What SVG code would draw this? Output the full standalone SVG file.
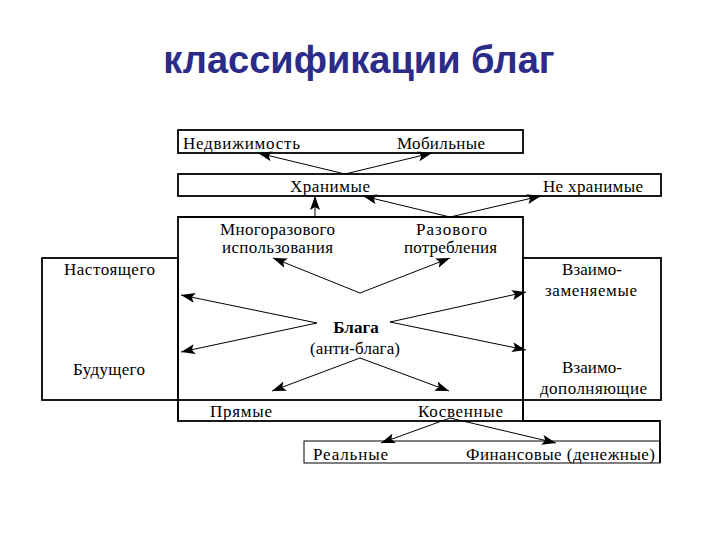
<svg xmlns="http://www.w3.org/2000/svg" width="720" height="540" viewBox="0 0 720 540">
<style>
.t{font-family:"Liberation Serif","DejaVu Serif","Times New Roman",serif;font-size:17px;fill:#000}
.b{fill:none;stroke:#000;stroke-width:1.8}
.c{fill:none;stroke:#000;stroke-width:1}
.title{font-family:"Liberation Sans",Arial,sans-serif;font-weight:bold;font-size:38px;fill:#2B2B88}
</style>
<defs>
<marker id="ah" markerUnits="userSpaceOnUse" markerWidth="16" markerHeight="12" refX="14" refY="5" orient="auto">
<path d="M0,0 L14,5 L0,10 L3,5 Z" fill="#000"/>
</marker>
</defs>
<rect width="720" height="540" fill="#fff"/>
<text class="title" x="359" y="73" text-anchor="middle">классификации благ</text>

<g id="n-row1">
<rect class="b" x="178" y="130" width="345" height="23"/>
<text class="t" font-family="Liberation Serif, DejaVu Serif, serif" x="183" y="149" textLength="117" lengthAdjust="spacing">Недвижимость</text>
<text class="t" font-family="Liberation Serif, DejaVu Serif, serif" x="397" y="149" textLength="88" lengthAdjust="spacing">Мобильные</text>
</g>
<g id="n-row2">
<rect class="b" x="178" y="174" width="483" height="22"/>
<text class="t" x="290" y="192" textLength="80" lengthAdjust="spacing">Хранимые</text>
<text class="t" x="543" y="192" textLength="100" lengthAdjust="spacing">Не хранимые</text>
</g>
<g id="n-center">
<path class="b" d="M178,421 V217 H523 V421"/>
<text class="t" x="220" y="235" textLength="115" lengthAdjust="spacing">Многоразового</text>
<text class="t" x="222" y="253" textLength="111" lengthAdjust="spacing">использования</text>
<text class="t" x="416" y="235" textLength="71" lengthAdjust="spacing">Разового</text>
<text class="t" x="404" y="253" textLength="93" lengthAdjust="spacing">потребления</text>
<text class="t" x="356" y="333" text-anchor="middle" font-weight="bold">Блага</text>
<text class="t" x="355" y="354" text-anchor="middle" textLength="90" lengthAdjust="spacing">(анти-блага)</text>
</g>
<g id="n-left">
<rect class="b" x="42" y="258" width="136" height="142"/>
<text class="t" x="64" y="275" textLength="91" lengthAdjust="spacing">Настоящего</text>
<text class="t" x="73" y="375" textLength="72" lengthAdjust="spacing">Будущего</text>
</g>
<g id="n-right">
<rect class="b" x="523" y="258" width="138" height="142"/>
<text class="t" x="562" y="275" textLength="60" lengthAdjust="spacing">Взаимо-</text>
<text class="t" x="545" y="296" textLength="92" lengthAdjust="spacing">заменяемые</text>
<text class="t" x="562" y="373" textLength="60" lengthAdjust="spacing">Взаимо-</text>
<text class="t" x="540" y="394" textLength="107" lengthAdjust="spacing">дополняющие</text>
</g>
<g id="n-row-bottom">
<rect class="b" x="178" y="400" width="345" height="21"/>
<text class="t" x="210" y="417" textLength="62" lengthAdjust="spacing">Прямые</text>
<text class="t" x="418" y="417" textLength="85" lengthAdjust="spacing">Косвенные</text>
<path class="b" d="M523,421 H660 V463"/>
</g>
<g id="n-row-last">
<rect class="c" x="304" y="441" width="356" height="22" stroke-width="1.5"/>
<text class="t" x="313" y="460" textLength="75" lengthAdjust="spacing">Реальные</text>
<text class="t" x="466" y="460" textLength="189" lengthAdjust="spacing">Финансовые (денежные)</text>
</g>

<g id="connectors">
<line class="c" x1="345" y1="174" x2="258" y2="153" marker-end="url(#ah)"/>
<line class="c" x1="345" y1="174" x2="432" y2="153" marker-end="url(#ah)"/>
<line class="c" x1="450" y1="217" x2="363" y2="196" marker-end="url(#ah)"/>
<line class="c" x1="450" y1="217" x2="541" y2="196" marker-end="url(#ah)"/>
<line class="c" x1="315" y1="217" x2="315" y2="196" marker-end="url(#ah)"/>
<line class="c" x1="360" y1="293" x2="273" y2="258" marker-end="url(#ah)"/>
<line class="c" x1="360" y1="293" x2="450" y2="258" marker-end="url(#ah)"/>
<line class="c" x1="317" y1="323" x2="181" y2="295" marker-end="url(#ah)"/>
<line class="c" x1="317" y1="323" x2="181" y2="352" marker-end="url(#ah)"/>
<line class="c" x1="390" y1="322" x2="526" y2="292" marker-end="url(#ah)"/>
<line class="c" x1="390" y1="322" x2="526" y2="350" marker-end="url(#ah)"/>
<line class="c" x1="360" y1="358" x2="272" y2="391" marker-end="url(#ah)"/>
<line class="c" x1="360" y1="358" x2="449" y2="391" marker-end="url(#ah)"/>
<line class="c" x1="450" y1="418" x2="381" y2="443" marker-end="url(#ah)"/>
<line class="c" x1="450" y1="418" x2="556" y2="443" marker-end="url(#ah)"/>
</g>
</svg>
